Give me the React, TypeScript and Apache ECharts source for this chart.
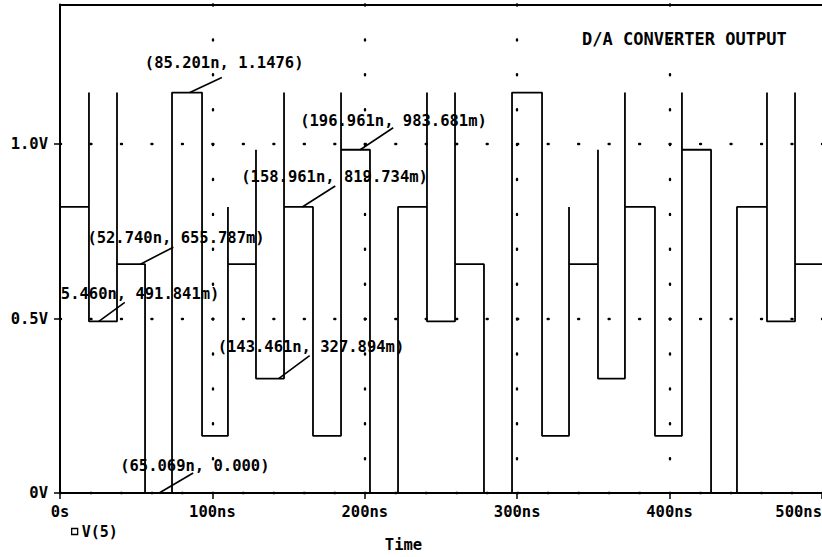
import React, { useEffect, useRef } from "react";
import * as echarts from "echarts";

// ---- data ----
const initialLevelV = 0.819734;
const switchTimesNs = [
  19.0, 37.4, 55.8, 73.5, 93.2, 110.2, 128.6, 147.0, 166.0, 184.4, 203.4, 221.8, 240.8,
  259.2, 278.2, 296.6, 316.3, 334.0, 353.0, 370.7, 390.4, 408.1, 427.2, 444.2, 463.9, 482.3,
];
const levelsAfterSwitchV = [
  0.491841, 0.655787, 0, 1.1476, 0.163947, 0.655787, 0.327894, 0.819734, 0.163947, 0.983681, 0,
  0.819734, 0.491841, 0.655787, 0, 1.1476, 0.163947, 0.655787, 0.327894, 0.819734, 0.163947,
  0.983681, 0, 0.819734, 0.491841, 0.655787,
];
const glitchPeaksV: (number | null)[] = [
  1.1476, 1.1476, null, null, null, 0.819734, 0.983681, 1.1476, null, 1.1476, null, null, 1.1476,
  1.1476, null, null, null, 0.819734, 0.983681, 1.1476, null, 1.1476, null, null, 1.1476, 1.1476,
];
const endTimeNs = 500;

const cursorTimesNs = [85.201, 196.961, 158.961, 52.74, 25.46, 143.461, 65.069];
const cursorValuesV = [1.1476, 0.983681, 0.819734, 0.655787, 0.491841, 0.327894, 0];
const cursorTexts = [
  "(85.201n, 1.1476)",
  "(196.961n, 983.681m)",
  "(158.961n, 819.734m)",
  "(52.740n, 655.787m)",
  "5.460n, 491.841m)",
  "(143.461n, 327.894m)",
  "(65.069n, 0.000)",
];

const titleText = "D/A CONVERTER OUTPUT";
const xAxisTitle = "Time";
const seriesName = "V(5)";

// ---- layout (pixel offsets of cursor leaders/labels relative to their point) ----
const cursorLayout = [
  { lx: 32, ly: -15, tx: -45, ty: -30 },
  { lx: 33, ly: -22, tx: -60, ty: -29 },
  { lx: 33, ly: -21, tx: -61, ty: -30 },
  { lx: 33, ly: -17, tx: -53, ty: -26 },
  { lx: 26, ly: -19, tx: -38, ty: -27 },
  { lx: 31, ly: -23, tx: -61, ty: -32 },
  { lx: 34, ly: -20, tx: -39, ty: -27 },
];

const MONO = "'DejaVu Sans Mono', 'Liberation Mono', monospace";

export default function App() {
  const ref = useRef<HTMLDivElement>(null);

  useEffect(() => {
    if (!ref.current) return;
    const chart = echarts.init(ref.current, undefined, { renderer: "svg" });

    const wave: [number, number][] = [[0, initialLevelV]];
    let prev = initialLevelV;
    switchTimesNs.forEach((t, i) => {
      wave.push([t, prev]);
      const g = glitchPeaksV[i];
      if (g !== null) wave.push([t, g]);
      wave.push([t, levelsAfterSwitchV[i]]);
      prev = levelsAfterSwitchV[i];
    });
    wave.push([endTimeNs, prev]);

    const textBase = { fontFamily: MONO, fontWeight: "bold" as const, color: "#000" };

    chart.setOption({
      animation: false,
      backgroundColor: "#fff",
      grid: {
        left: 60,
        top: 4.5,
        width: 762,
        height: 488.5,
        show: false,
        containLabel: false,
        outerBoundsMode: "none",
      },
      legend: {
        left: 66,
        top: 519,
        icon: "rect",
        itemWidth: 6,
        itemHeight: 6,
        itemGap: 5,
        itemStyle: { color: "#fff", borderColor: "#000", borderWidth: 1.3 },
        textStyle: { ...textBase, fontSize: 15, padding: [0, 0, 0, -1] },
        data: [seriesName],
      },
      xAxis: [
        {
          type: "value",
          min: 0,
          max: 500,
          interval: 100,
          axisLine: { show: true, lineStyle: { color: "#000", width: 2 } },
          axisTick: { show: true, length: 6, lineStyle: { color: "#000", width: 1.5 } },
          axisLabel: {
            ...textBase,
            fontSize: 15.5,
            margin: 11,
            alignMaxLabel: "right",
            formatter: (v: number) => (v === 0 ? "0s" : `${v}ns`),
          },
          splitLine: {
            show: true,
            showMinLine: false,
            showMaxLine: false,
            lineStyle: { color: "#000", width: 2.4, type: [1, 33.9], cap: "round" },
          },
        },
        {
          type: "value",
          position: "top",
          min: 0,
          max: 500,
          interval: 100,
          axisLine: { show: true, lineStyle: { color: "#000", width: 2 } },
          axisTick: { show: false },
          axisLabel: { show: false },
          splitLine: { show: false },
        },
      ],
      yAxis: {
        type: "value",
        min: 0,
        max: 1.4,
        interval: 0.5,
        axisLine: { show: true, lineStyle: { color: "#000", width: 2 } },
        axisTick: {
          show: true,
          length: 6,
          customValues: [0, 0.5, 1.0],
          lineStyle: { color: "#000", width: 1.5 },
        },
        axisLabel: {
          ...textBase,
          fontSize: 15.5,
          margin: 12,
          customValues: [0, 0.5, 1.0],
          formatter: (v: number) => (v === 0 ? "0V" : `${v.toFixed(1)}V`),
        },
        splitLine: {
          show: true,
          lineStyle: { color: "#000", width: 2.4, type: [1, 29.48], cap: "round" },
        },
      },
      series: [
        {
          name: seriesName,
          type: "line",
          xAxisIndex: 0,
          data: wave,
          showSymbol: false,
          symbol: "rect",
          symbolSize: 6,
          itemStyle: { color: "#fff", borderColor: "#000", borderWidth: 1.3 },
          lineStyle: { color: "#000", width: 1.8 },
        },
      ],
    });

    const gfx: any[] = [];
    cursorTimesNs.forEach((t, i) => {
      const [px, py] = chart.convertToPixel(
        { xAxisIndex: 0, yAxisIndex: 0 },
        [t, cursorValuesV[i]]
      ) as number[];
      const L = cursorLayout[i];
      gfx.push({
        type: "line",
        shape: { x1: px, y1: py, x2: px + L.lx, y2: py + L.ly },
        style: { stroke: "#000", lineWidth: 1.6 },
      });
      gfx.push({
        type: "text",
        x: px + L.tx,
        y: py + L.ty,
        style: {
          text: cursorTexts[i],
          fontFamily: MONO,
          fontWeight: "bold",
          fontSize: 15.5,
          fill: "#000",
          align: "left",
          verticalAlign: "middle",
        },
      });
    });
    gfx.push({
      type: "text",
      x: 582,
      y: 39,
      style: {
        text: titleText,
        fontFamily: MONO,
        fontWeight: "bold",
        fontSize: 17,
        fill: "#000",
        align: "left",
        verticalAlign: "middle",
      },
    });
    gfx.push({
      type: "text",
      x: 403.5,
      y: 545,
      style: {
        text: xAxisTitle,
        fontFamily: MONO,
        fontWeight: "bold",
        fontSize: 15.5,
        fill: "#000",
        align: "center",
        verticalAlign: "middle",
      },
    });
    chart.setOption({ graphic: gfx });

    return () => chart.dispose();
  }, []);

  return (
    <div
      ref={ref}
      style={{ position: "fixed", left: 0, top: 0, width: 822, height: 557, background: "#fff" }}
    />
  );
}
